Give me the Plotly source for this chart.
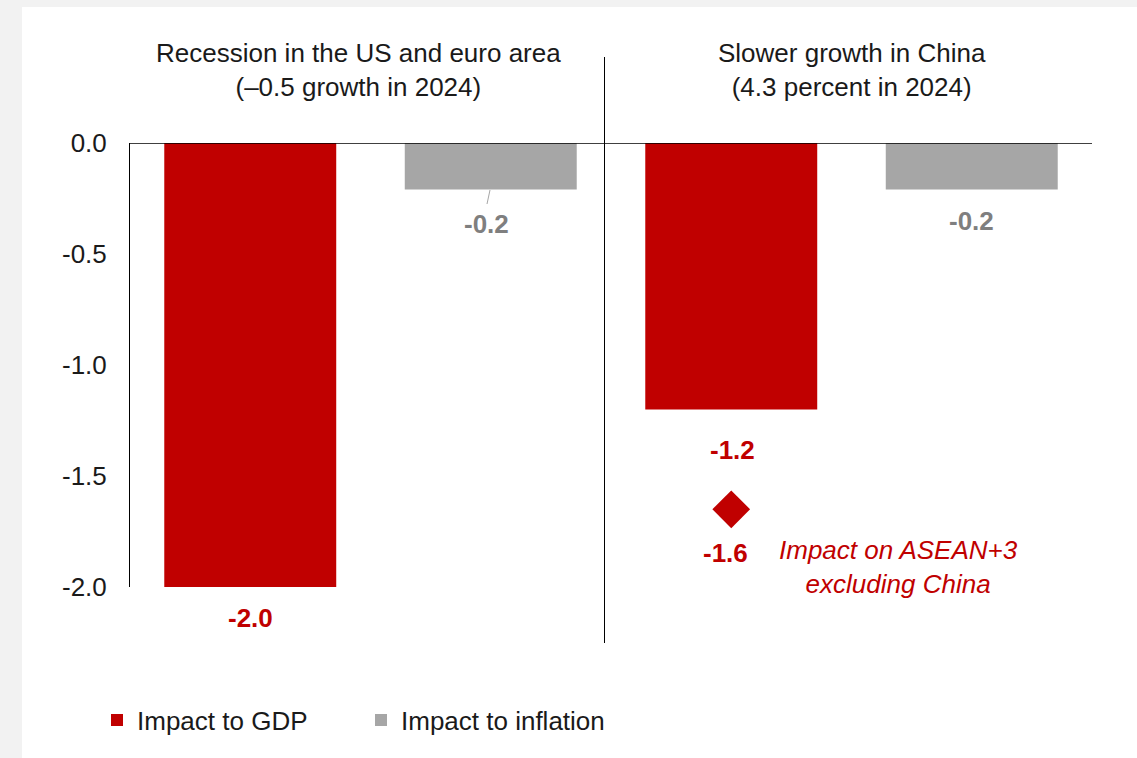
import plotly.graph_objects as go

# ---- data ----
scenarios = ["Recession in the US and euro area<br>(–0.5 growth in 2024)",
             "Slower growth in China<br>(4.3 percent in 2024)"]
bar_slots = ["US/EA GDP", "US/EA inflation", "China GDP", "China inflation"]
gdp_slots = ["US/EA GDP", "China GDP"]
infl_slots = ["US/EA inflation", "China inflation"]
gdp_impact = [-2.0, -1.2]
inflation_impact = [-0.21, -0.21]
asean_ex_china_slot = ["China GDP"]
asean_ex_china = [-1.65]
y_ticks = [0.0, -0.5, -1.0, -1.5, -2.0]

RED = "#c00000"
GRAY = "#a6a6a6"
LABEL_GRAY = "#7f7f7f"
TXT = "#1a1a1a"
FONT = "Liberation Sans, Arial, sans-serif"
FS = 26

W, H = 1137, 758
L, R, T, B = 130, 45, 143, 171
pw, ph = W - L - R, H - T - B


def px_x(p):
    return (p - L) / pw


def px_y(p):
    return (H - B - p) / ph


fig = go.Figure()
fig.add_trace(go.Bar(x=gdp_slots, y=gdp_impact, name="Impact to GDP",
                     marker=dict(color=RED, line=dict(width=0)), width=0.715))
fig.add_trace(go.Bar(x=infl_slots, y=inflation_impact, name="Impact to inflation",
                     marker=dict(color=GRAY, line=dict(width=0)), width=0.715))
fig.add_trace(go.Scatter(x=asean_ex_china_slot, y=asean_ex_china, mode="markers",
                         marker=dict(symbol="diamond", size=29, color=RED),
                         showlegend=False, cliponaxis=False))

annotations = []
# data labels
label_specs = [
    (gdp_slots[0], gdp_impact[0], RED, -31, 0),
    (infl_slots[0], inflation_impact[0], LABEL_GRAY, -34, -4),
    (gdp_slots[1], gdp_impact[1], RED, -41, 1),
    (infl_slots[1], inflation_impact[1], LABEL_GRAY, -31, 0),
    (asean_ex_china_slot[0], asean_ex_china[0], RED, -44, -6),
]
for xc, v, col, ys, xs in label_specs:
    annotations.append(dict(x=xc, y=v, xref="x", yref="y", text=f"<b>{v:.1f}</b>",
                            showarrow=False, yshift=ys, xshift=xs,
                            yanchor="middle", xanchor="center",
                            font=dict(family=FONT, size=FS, color=col)))

annotations.append(dict(x=asean_ex_china_slot[0], y=asean_ex_china[0], xref="x", yref="y",
                        text="<i>Impact on ASEAN+3<br>excluding China</i>",
                        showarrow=False, xshift=167, yshift=-58,
                        xanchor="center", yanchor="middle", align="center",
                        font=dict(family=FONT, size=FS, color=RED)))

# scenario titles
annotations.append(dict(x=0.5, y=px_y(70), xref="x", yref="paper", text=scenarios[0],
                        showarrow=False, xshift=-12, xanchor="center", yanchor="middle",
                        align="center", font=dict(family=FONT, size=FS, color=TXT)))
annotations.append(dict(x=2.5, y=px_y(70), xref="x", yref="paper", text=scenarios[1],
                        showarrow=False, xanchor="center", yanchor="middle",
                        align="center", font=dict(family=FONT, size=FS, color=TXT)))

shapes = [
    # white panel
    dict(type="rect", xref="paper", yref="paper", x0=px_x(22), x1=px_x(1140),
         y0=px_y(762), y1=px_y(7), fillcolor="white", line=dict(width=0), layer="below"),
    # separator
    dict(type="line", xref="paper", yref="paper", x0=px_x(604.5), x1=px_x(604.5),
         y0=px_y(643), y1=px_y(57), line=dict(color="#000000", width=1)),
    # zero line
    dict(type="line", xref="paper", yref="y", x0=0, x1=1, y0=0, y1=0,
         line=dict(color="#000000", width=1.3)),
    # leader line for first inflation label
    dict(type="line", xref="paper", yref="paper",
         x0=px_x(490), x1=px_x(487), y0=px_y(190), y1=px_y(204),
         line=dict(color=GRAY, width=1)),
]

fig.update_layout(
    width=W, height=H,
    margin=dict(l=L, r=R, t=T, b=B),
    paper_bgcolor="#f2f2f2", plot_bgcolor="rgba(0,0,0,0)",
    barmode="overlay",
    font=dict(family=FONT, size=FS, color=TXT),
    xaxis=dict(categoryorder="array", categoryarray=bar_slots, range=[-0.5, 3.5],
               showticklabels=False, showgrid=False, zeroline=False, showline=False,
               ticks=""),
    yaxis=dict(range=[-2.0, 0.0], tickvals=y_ticks, ticktext=[f"{v:.1f}" for v in y_ticks],
               showgrid=False, zeroline=False, showline=True, linecolor="#000000",
               linewidth=1, ticks="", ticklabelstandoff=17,
               tickfont=dict(family=FONT, size=FS, color=TXT)),
    legend=dict(orientation="h", x=px_x(97), y=px_y(720), xanchor="left", yanchor="middle",
                bgcolor="rgba(0,0,0,0)", entrywidth=219, entrywidthmode="pixels",
                font=dict(family=FONT, size=FS, color=TXT), traceorder="normal"),
    annotations=annotations,
    shapes=shapes,
)

fig.write_html("out.html", config={"displayModeBar": False},
               post_script="document.body.style.margin='0';")
